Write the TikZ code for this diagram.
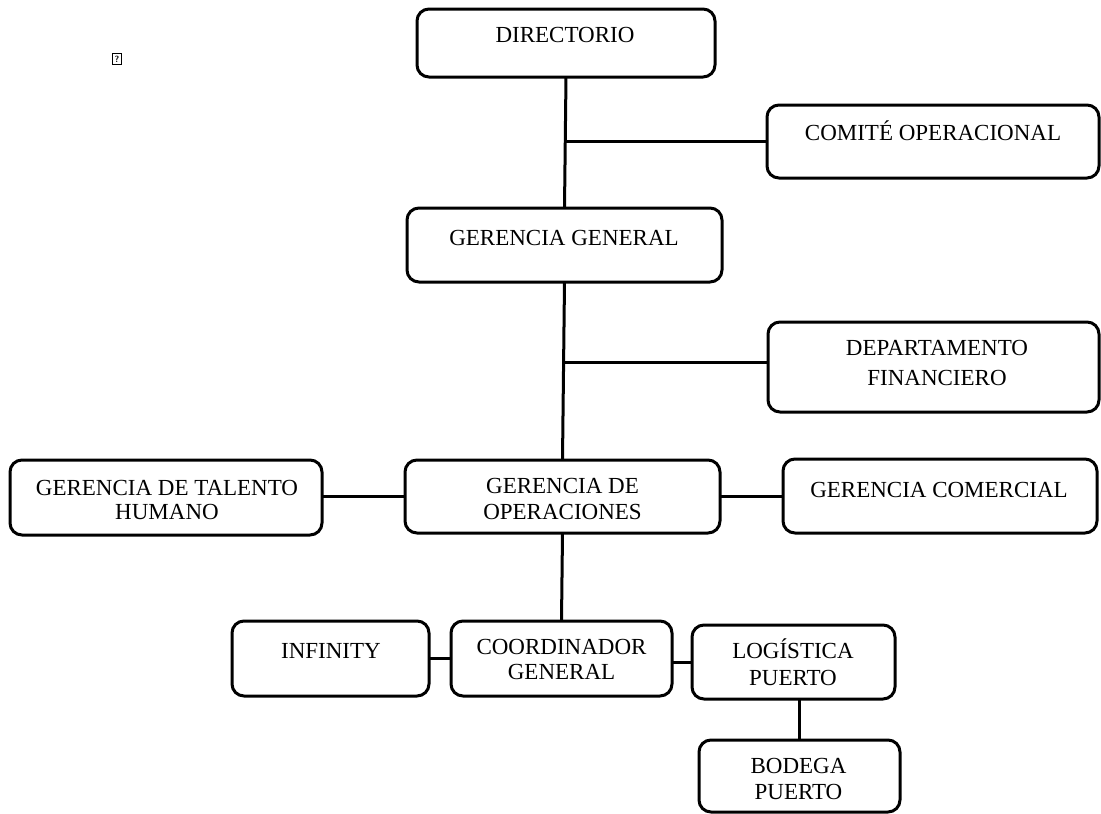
\documentclass[tikz,border=0pt]{standalone}
\usepackage{fontspec}
\setmainfont{Liberation Serif}
\usetikzlibrary{calc}
\begin{document}
\begin{tikzpicture}[x=1pt,y=-1pt,
  unitbox/.style={draw, line width=3pt, rounded corners=12pt, inner sep=0pt, outer sep=0pt},
  boxtext/.style={anchor=base, align=center, inner sep=0pt, font=\fontsize{23}{25}\selectfont},
  link/.style={line width=3pt}]
\useasboundingbox (0,0) rectangle (1101,814);

% stray glyph box in the corner
\node[draw, line width=0.9pt, inner sep=1pt, minimum width=9pt, minimum height=11pt,
      font=\sffamily\bfseries\fontsize{9}{9}\selectfont] (glyph) at (117,59) {?};

% unit boxes
\node[unitbox, minimum width=298pt, minimum height=68pt] (dir) at (566,43) {};
\node[unitbox, minimum width=332pt, minimum height=73pt] (com) at (933,141.5) {};
\node[unitbox, minimum width=315pt, minimum height=74pt] (gg)  at (564.5,245) {};
\node[unitbox, minimum width=331pt, minimum height=90pt] (df)  at (933.5,367) {};
\node[unitbox, minimum width=315pt, minimum height=73pt] (go)  at (562.5,496.5) {};
\node[unitbox, minimum width=312pt, minimum height=75pt] (gth) at (166,497.5) {};
\node[unitbox, minimum width=314pt, minimum height=74pt] (gc)  at (940,496) {};
\node[unitbox, minimum width=197pt, minimum height=75pt] (inf) at (330.5,658.5) {};
\node[unitbox, minimum width=221pt, minimum height=75pt] (co)  at (561.5,658.5) {};
\node[unitbox, minimum width=203pt, minimum height=74pt] (log) at (793.5,662) {};
\node[unitbox, minimum width=201pt, minimum height=72pt] (bod) at (799.5,776) {};

% box titles
\node[boxtext] (dirt) at (565,42) {DIRECTORIO};
\node[boxtext] (comt) at (933,140) {COMITÉ OPERACIONAL};
\node[boxtext] (ggt)  at (564,245) {GERENCIA GENERAL};
\node[boxtext, font=\fontsize{23}{30}\selectfont] (dft) at (937,385) {DEPARTAMENTO\\FINANCIERO};
\node[boxtext, font=\fontsize{23}{26}\selectfont] (got) at (562.5,519) {GERENCIA DE\\OPERACIONES};
\node[boxtext, font=\fontsize{23}{24}\selectfont] (gtht) at (167,519) {GERENCIA DE TALENTO\\HUMANO};
\node[boxtext] (gct)  at (939,497) {GERENCIA COMERCIAL};
\node[boxtext] (inft) at (331,658) {INFINITY};
\node[boxtext] (cot)  at (561.5,679) {COORDINADOR\\GENERAL};
\node[boxtext, font=\fontsize{23}{27}\selectfont] (logt) at (793,685) {LOGÍSTICA\\PUERTO};
\node[boxtext, font=\fontsize{23}{26}\selectfont] (bodt) at (798.5,799) {BODEGA\\PUERTO};

% connectors
\draw[link] (dir.south) -- (gg.north);
\coordinate (j1) at ($(dir.south)!0.494!(gg.north)$);
\draw[link] (j1) -- (j1 -| com.west);

\draw[link] (gg.south) -- (go.north);
\coordinate (j2) at ($(gg.south)!0.455!(go.north)$);
\draw[link] (j2) -- (j2 -| df.west);

\draw[link] (gth.east |- go.west) -- (go.west);
\draw[link] (go.east) -- (go.east -| gc.west);
\draw[link] (go.south) -- (co.north);
\draw[link] (inf.east) -- (inf.east -| co.west);
\draw[link] (log.west -| co.east) -- (log.west);
\draw[link] (log.south -| bod.north) -- (bod.north);
\end{tikzpicture}
\end{document}
